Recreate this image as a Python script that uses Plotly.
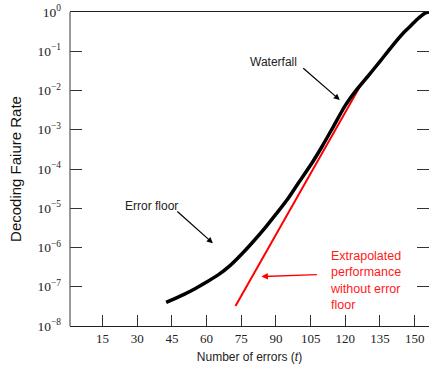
import plotly.graph_objects as go

# --- data ---
black_x = [42.5, 50, 55, 60, 65, 70, 75, 80, 85, 90, 95, 100, 105, 110, 115, 120, 125, 130, 135, 140, 145, 148, 151, 153, 154.5, 156.2]
black_y = [3.98e-8, 6.31e-8, 8.91e-8, 1.32e-7, 2.00e-7, 3.39e-7, 6.61e-7, 1.38e-6, 3.02e-6, 7.08e-6,
           1.70e-5, 4.68e-5, 1.26e-4, 3.80e-4, 1.26e-3, 4.17e-3, 1.07e-2, 2.40e-2, 5.50e-2, 1.30e-1,
           2.88e-1, 4.27e-1, 6.46e-1, 8.13e-1, 9.33e-1, 1.0]

red_x = [72.5, 126, 130, 135, 140, 145, 148, 151, 153, 154.5, 156.2]
red_y = [3.24e-8, 1.17e-2, 2.40e-2, 5.50e-2, 1.30e-1, 2.88e-1, 4.27e-1, 6.46e-1, 8.13e-1, 9.33e-1, 1.0]

x_ticks = [15, 30, 45, 60, 75, 90, 105, 120, 135, 150]
y_tick_vals = [1e-8, 1e-7, 1e-6, 1e-5, 1e-4, 1e-3, 1e-2, 1e-1, 1e0]
y_tick_text = ["10<sup>−8</sup>", "10<sup>−7</sup>", "10<sup>−6</sup>", "10<sup>−5</sup>",
               "10<sup>−4</sup>", "10<sup>−3</sup>", "10<sup>−2</sup>", "10<sup>−1</sup>", "10<sup>0</sup>"]

fig = go.Figure()
fig.add_trace(go.Scatter(x=red_x, y=red_y, mode="lines",
                         line=dict(color="#ff0000", width=2), showlegend=False))
fig.add_trace(go.Scatter(x=black_x, y=black_y, mode="lines",
                         line=dict(color="#000000", width=3.5, shape="spline", smoothing=0.6),
                         showlegend=False))

serif = "Liberation Serif"
sans = "Liberation Sans, Arial, sans-serif"

fig.update_layout(
    width=429, height=365,
    margin=dict(l=70, r=0, t=12, b=39),
    paper_bgcolor="white", plot_bgcolor="white",
    xaxis=dict(range=[0.9, 156.2], tickvals=x_ticks, ticks="inside", ticklen=11,
               tickcolor="#333", showline=True, linecolor="#222", linewidth=1.2, mirror=True,
               showgrid=False, zeroline=False,
               tickfont=dict(family=serif, size=13, color="#222"),
               title=dict(text="Number of errors (<i>t</i>)", font=dict(family=sans, size=12, color="#222"),
                          standoff=7)),
    yaxis=dict(type="log", range=[-8, 0], tickvals=y_tick_vals, ticktext=y_tick_text,
               ticks="inside", ticklen=12, tickcolor="#333", showline=False, mirror="ticks",
               showgrid=False, zeroline=False, ticklabelstandoff=8,
               tickfont=dict(family=serif, size=13.5, color="#222"),
               title=dict(text="Decoding Faiure Rate", font=dict(family=sans, size=15, color="#111"),
                          standoff=12)),
    shapes=[dict(type="line", xref="paper", yref="paper", x0=0, x1=0, y0=0, y1=1,
                 line=dict(color="#555", width=1.2))],
    annotations=[
        dict(x=89.0, y=-1.27, xref="x", yref="y", text="Waterfall", showarrow=False,
             font=dict(family=sans, size=12, color="#222")),
        dict(x=117.6, y=-2.24, xref="x", yref="y", text="", showarrow=True,
             ax=-38, ay=-33, arrowhead=2, arrowsize=1, arrowwidth=1.2, arrowcolor="#000"),
        dict(x=36.3, y=-4.93, xref="x", yref="y", text="Error floor", showarrow=False,
             font=dict(family=sans, size=12, color="#222")),
        dict(x=62.7, y=-5.89, xref="x", yref="y", text="", showarrow=True,
             ax=-37, ay=-33, arrowhead=2, arrowsize=1, arrowwidth=1.2, arrowcolor="#000"),
        dict(x=112.3, y=-6.85, xref="x", yref="y",
             text="Extrapolated<br>performance<br>without error<br>floor", showarrow=False,
             xanchor="left", yanchor="middle", align="left",
             font=dict(family=sans, size=12.5, color="#ff1a1a")),
        dict(x=83.7, y=-6.74, xref="x", yref="y", text="", showarrow=True,
             ax=57, ay=-2, arrowhead=2, arrowsize=1, arrowwidth=1.3, arrowcolor="#ff0000"),
    ],
)

fig.write_html("out.html", config={"displayModeBar": False},
               post_script="document.body.style.margin='0';document.body.style.overflow='hidden';")
